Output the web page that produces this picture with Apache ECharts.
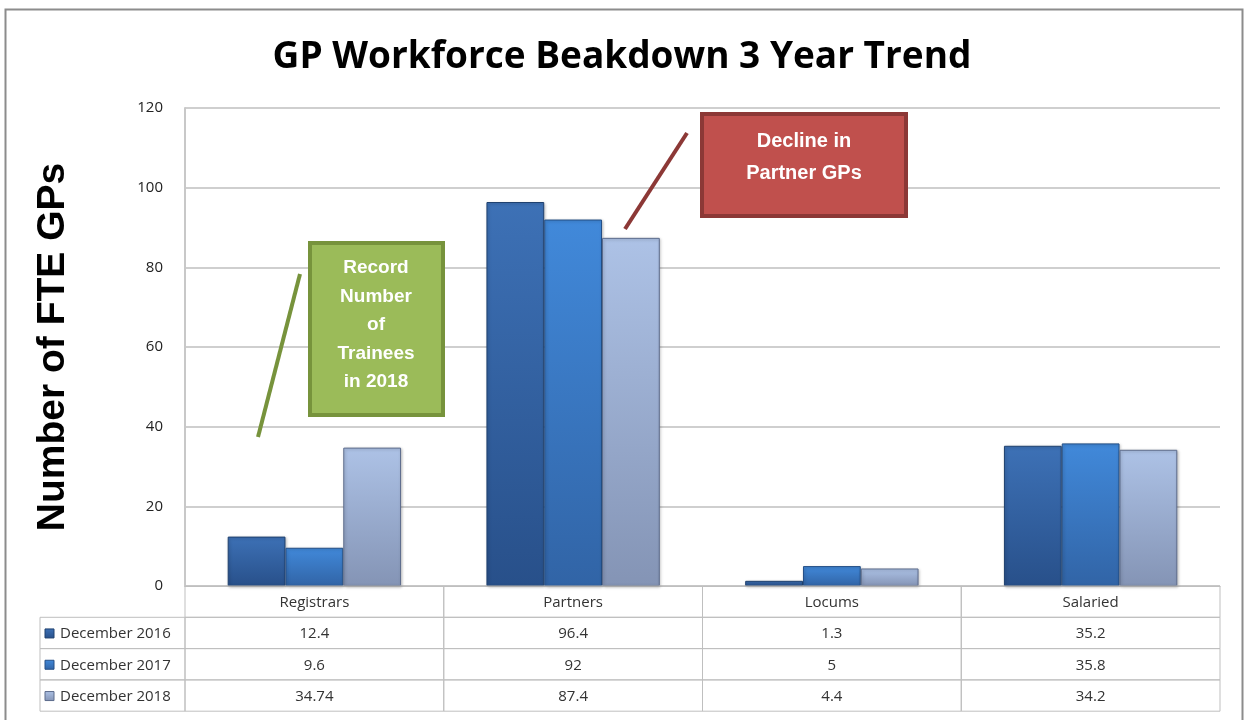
<!DOCTYPE html>
<html><head><meta charset="utf-8">
<script src="https://cdn.jsdelivr.net/npm/echarts@6/dist/echarts.min.js"></script>
<style>html,body{margin:0;padding:0;background:#fff}#c{width:1244px;height:720px}</style>
</head><body><div id="c"></div>
<script>
const categories = ['Registrars', 'Partners', 'Locums', 'Salaried'];
const seriesNames = ['December 2016', 'December 2017', 'December 2018'];
const dec2016 = [12.4, 96.4, 1.3, 35.2];
const dec2017 = [9.6, 92, 5, 35.8];
const dec2018 = [34.74, 87.4, 4.4, 34.2];
const tableText = [['12.4', '96.4', '1.3', '35.2'], ['9.6', '92', '5', '35.8'], ['34.74', '87.4', '4.4', '34.2']];
const title = 'GP Workforce Beakdown 3 Year Trend';
const yName = 'Number of FTE GPs';
const note1 = 'Record\nNumber\nof\nTrainees\nin 2018';
const note2 = 'Decline in\nPartner GPs';

const values = [dec2016, dec2017, dec2018];
const grads = [
  ['#3d71b6', '#28508a', '#1f416f'],
  ['#4189da', '#3164a6', '#244f86'],
  ['#adc2e6', '#8494b5', '#5d6c8c']
];
function grad(g) {
  return new echarts.graphic.LinearGradient(0, 0, 0, 1, [{offset: 0, color: g[0]}, {offset: 1, color: g[1]}]);
}
const FONT = 'Open Sans';
const ROW = 31.3;
const LEFTCOL = 40;

const chart = echarts.init(document.getElementById('c'));

function tableItem(params, api) {
  const i = api.value(0);
  const p = api.coord([i, 0]);
  const band = api.size([1, 0])[0];
  const x0 = p[0] - band / 2;
  const y0 = p[1];
  const ch = [];
  const lineStyle = {stroke: '#bfbfbf', lineWidth: 1, fill: null};
  for (let r = 0; r < 4; r++) {
    ch.push({type: 'rect', shape: {x: x0, y: y0 + r * ROW, width: band, height: ROW}, style: lineStyle, silent: true});
    const t = r === 0 ? categories[i] : tableText[r - 1][i];
    ch.push({type: 'text', style: {text: t, x: p[0], y: y0 + r * ROW + ROW / 2 + 1, align: 'center', verticalAlign: 'middle', font: '15px "' + FONT + '"', fill: '#333'}, silent: true});
  }
  if (i === 0) {
    for (let r = 1; r < 4; r++) {
      ch.push({type: 'rect', shape: {x: LEFTCOL, y: y0 + r * ROW, width: x0 - LEFTCOL, height: ROW}, style: lineStyle, silent: true});
      const g = grads[r - 1];
      ch.push({type: 'rect', shape: {x: LEFTCOL + 5, y: y0 + r * ROW + ROW / 2 - 4, width: 9, height: 9}, style: {fill: grad(g), stroke: g[2], lineWidth: 1}, silent: true});
      ch.push({type: 'text', style: {text: seriesNames[r - 1], x: LEFTCOL + 20, y: y0 + r * ROW + ROW / 2 + 1, align: 'left', verticalAlign: 'middle', font: '15px "' + FONT + '"', fill: '#333'}, silent: true});
    }
  }
  return {type: 'group', children: ch};
}

const barSeries = values.map((v, k) => ({
  name: seriesNames[k],
  type: 'bar',
  data: v,
  barGap: '0%',
  barCategoryGap: '33%',
  itemStyle: {color: grad(grads[k]), borderColor: grads[k][2], borderWidth: 1, shadowColor: 'rgba(0,0,0,0.25)', shadowBlur: 3, shadowOffsetX: 1, shadowOffsetY: 1},
  emphasis: {disabled: true},
  animation: false
}));

chart.setOption({
  animation: false,
  title: {text: title, left: 'center', top: 34, textStyle: {fontFamily: FONT, fontWeight: 'bold', fontSize: 37, color: '#000'}},
  grid: {left: 185, right: 24, top: 108, bottom: 134, containLabel: false},
  xAxis: {type: 'category', data: categories, axisLabel: {show: false}, axisTick: {show: false},
    axisLine: {show: true, lineStyle: {color: '#bfbfbf'}}, splitLine: {show: false}},
  yAxis: {type: 'value', min: 0, max: 120, interval: 20,
    name: yName, nameLocation: 'middle', nameGap: 112, nameRotate: 90,
    nameTextStyle: {fontFamily: 'Liberation Sans', fontWeight: 'bold', fontSize: 39, color: '#000'},
    axisLabel: {fontFamily: FONT, fontSize: 15, color: '#222', margin: 22},
    axisLine: {show: true, lineStyle: {color: '#c8c8c8', width: 2}}, axisTick: {show: false},
    splitLine: {lineStyle: {color: '#cfcfcf', width: 2}}},
  series: barSeries.concat([{
    type: 'custom', name: 'table', renderItem: tableItem, clip: false, silent: true, z: 10,
    data: categories.map((c, i) => [i, 0]), encode: {x: 0, y: 1}, tooltip: {show: false}
  }]),
  graphic: [
    {type: 'rect', left: 3, top: 7, shape: {width: 1237, height: 730}, style: {fill: null, stroke: '#8c8c8c', lineWidth: 2}, silent: true, z: -1},
    {type: 'line', shape: {x1: 300, y1: 274, x2: 258, y2: 437}, style: {stroke: '#77933c', lineWidth: 4}, z: 20},
    {type: 'rect', shape: {x: 310, y: 243, width: 133, height: 172}, style: {fill: '#9bbb59', stroke: '#77933c', lineWidth: 4}, z: 20},
    {type: 'text', style: {text: note1, x: 376, y: 325, align: 'center', verticalAlign: 'middle', font: 'bold 19px "Liberation Sans"', fill: '#fff', lineHeight: 28.5}, z: 21},
    {type: 'line', shape: {x1: 687, y1: 133, x2: 625, y2: 229}, style: {stroke: '#8c3836', lineWidth: 4}, z: 20},
    {type: 'rect', shape: {x: 702, y: 114, width: 204, height: 102}, style: {fill: '#c0504d', stroke: '#8c3836', lineWidth: 4}, z: 20},
    {type: 'text', style: {text: note2, x: 804, y: 157, align: 'center', verticalAlign: 'middle', font: 'bold 20px "Liberation Sans"', fill: '#fff', lineHeight: 32}, z: 21}
  ]
});
</script></body></html>
